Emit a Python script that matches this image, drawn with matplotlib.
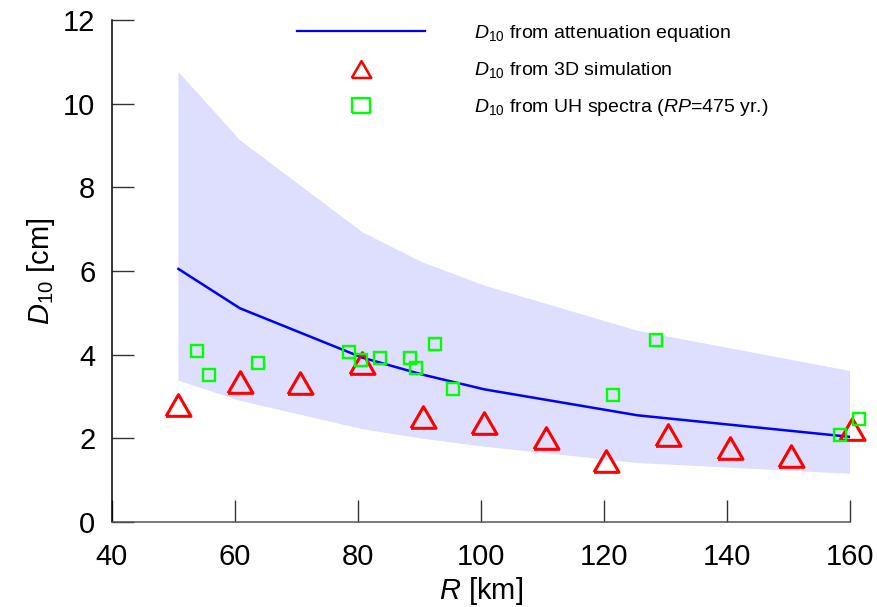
"""
D10 versus hypocentral distance: attenuation equation with its
scatter band, 3D simulation results and UH spectra values.
"""

import numpy as np

import matplotlib

matplotlib.use("Agg")

import matplotlib.pyplot as plt

from matplotlib.lines import Line2D

# =========================================================
# Datos
# =========================================================

# attenuation equation (mean and +/- one sigma band)
R_eq = [50.8, 60.8, 80.7, 90.6, 100.6, 125.5, 160.4]
D_eq = [6.05, 5.11, 3.93, 3.52, 3.17, 2.55, 2.03]
D_upper = [10.76, 9.13, 6.93, 6.20, 5.65, 4.57, 3.60]
D_lower = [3.38, 2.90, 2.22, 1.99, 1.80, 1.41, 1.15]

# 3D simulation
R_sim = [50.8, 60.8, 70.6, 80.6, 90.5, 100.5,
         110.5, 120.4, 130.4, 140.5, 150.4, 160.4]
D_sim = [2.79, 3.35, 3.32, 3.79, 2.52, 2.36,
         2.02, 1.46, 2.08, 1.78, 1.57, 2.22]

# UH spectra, RP = 475 yr
R_uh = [53.9, 55.8, 63.8, 78.5, 80.5, 83.6, 88.5,
        89.5, 92.5, 95.4, 121.4, 128.4, 158.3, 161.4]
D_uh = [4.10, 3.51, 3.79, 4.06, 3.87, 3.93, 3.92,
        3.68, 4.26, 3.18, 3.04, 4.36, 2.08, 2.46]

x_ticks = [40, 60, 80, 100, 120, 140, 160]
y_ticks = [0, 2, 4, 6, 8, 10, 12]

# =========================================================
# Estilo
# =========================================================

plt.rcParams["font.family"] = ["Liberation Sans", "DejaVu Sans"]
plt.rcParams["mathtext.fontset"] = "custom"
plt.rcParams["mathtext.rm"] = "Liberation Sans"
plt.rcParams["mathtext.it"] = "Liberation Sans:italic"

BLUE = "#0000ff"
RED = "#ff0000"
GREEN = "#00ff00"
BAND = "#dedeff"

# equilateral triangle and a slightly wide box for the legend
TRI = [(-0.5, -0.433), (0.5, -0.433), (0.0, 0.433), (-0.5, -0.433)]
BOX = [(-0.5, -0.4), (0.5, -0.4), (0.5, 0.4), (-0.5, 0.4), (-0.5, -0.4)]

# =========================================================
# Figura
# =========================================================

fig = plt.figure(figsize=(8.77, 6.07), dpi=100)

ax = fig.add_axes([0.1277, 0.1400, 0.8415, 0.8270])

# band
ax.fill_between(
    R_eq,
    D_lower,
    D_upper,
    facecolor=BAND,
    edgecolor="none",
    zorder=1
)

# attenuation equation
ax.plot(
    R_eq,
    D_eq,
    color=BLUE,
    linewidth=1.8,
    zorder=2
)

# 3D simulation
ax.plot(
    R_sim,
    D_sim,
    linestyle="none",
    marker=TRI,
    markersize=18,
    markerfacecolor="none",
    markeredgecolor=RED,
    markeredgewidth=2.2,
    clip_on=False,
    zorder=3
)

# UH spectra
ax.plot(
    R_uh,
    D_uh,
    linestyle="none",
    marker="s",
    markersize=8.6,
    markerfacecolor="none",
    markeredgecolor=GREEN,
    markeredgewidth=1.7,
    clip_on=False,
    zorder=4
)

# =========================================================
# Ejes
# =========================================================

ax.set_xlim(40, 160)
ax.set_ylim(0, 12)

ax.set_xticks(x_ticks)
ax.set_yticks(y_ticks)

ax.spines["top"].set_visible(False)
ax.spines["right"].set_visible(False)
ax.spines["left"].set_linewidth(1.1)
ax.spines["bottom"].set_linewidth(1.1)
ax.spines["bottom"].set_color("#555555")

ax.tick_params(
    axis="both",
    direction="in",
    length=15.5,
    width=1.0,
    labelsize=21,
    color="#333333"
)
ax.tick_params(axis="x", pad=15)
ax.tick_params(axis="y", pad=12)

ax.set_xlabel(r"$\mathit{R}$ [km]", fontsize=21, labelpad=3)
ax.set_ylabel(r"$\mathit{D}_{\mathit{10}}$ [cm]", fontsize=21, labelpad=4)

# =========================================================
# Leyenda
# =========================================================

handles = [
    Line2D([], [], color=BLUE, linewidth=1.6),
    Line2D([], [], linestyle="none", marker=TRI, markersize=14,
           markerfacecolor="none", markeredgecolor=RED,
           markeredgewidth=1.8),
    Line2D([], [], linestyle="none", marker=BOX, markersize=13.5,
           markerfacecolor="none", markeredgecolor=GREEN,
           markeredgewidth=1.7),
]

labels = [
    r"$\mathit{D}_{\mathit{10}}$ from attenuation equation",
    r"$\mathit{D}_{\mathit{10}}$ from 3D simulation",
    r"$\mathit{D}_{\mathit{10}}$ from UH spectra ($\mathit{RP}$=475 yr.)",
]

ax.legend(
    handles,
    labels,
    loc="upper left",
    bbox_to_anchor=(297 / 877, 1 - 23 / 607),
    bbox_transform=fig.transFigure,
    frameon=False,
    fontsize=14,
    handlelength=6.6,
    handletextpad=2.5,
    labelspacing=0.84,
    borderpad=0,
    borderaxespad=0
)

fig.savefig("out.png", dpi=100)
